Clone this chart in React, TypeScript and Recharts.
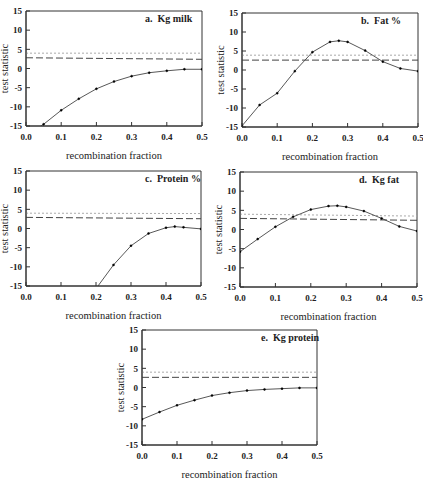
import React from "react";
import { LineChart, Line, XAxis, YAxis, ReferenceArea } from "recharts";

// recombination fractions (x) for each trait
const rfAll = [0, 0.05, 0.1, 0.15, 0.2, 0.25, 0.3, 0.35, 0.4, 0.45, 0.5];
const rfPeak = [0, 0.05, 0.1, 0.15, 0.2, 0.25, 0.275, 0.3, 0.35, 0.4, 0.45, 0.5];
const rfProtPct = [0.2, 0.25, 0.3, 0.35, 0.4, 0.425, 0.45, 0.5];

// test statistic values
const kgMilk = [-17.5, -14.55, -10.9, -7.9, -5.3, -3.4, -2.0, -1.1, -0.6, -0.2, -0.2];
const fatPct = [-14.7, -9.2, -6.1, -0.3, 4.7, 7.4, 7.7, 7.4, 5.1, 2.2, 0.4, -0.3];
const proteinPct = [-15.7, -9.5, -4.5, -1.3, 0.2, 0.5, 0.3, -0.1];
const kgFat = [-5.8, -2.5, 0.7, 3.3, 5.2, 6.1, 6.2, 5.9, 4.8, 2.9, 0.8, -0.4];
const kgProtein = [-8.3, -6.4, -4.65, -3.3, -2.1, -1.35, -0.8, -0.5, -0.3, -0.1, -0.1];

// threshold lines (value at r = 0 and r = 0.5)
const thrEnds = [0, 0.5];
const dashA = [2.8, 2.4];
const dashB = [2.6, 2.6];
const dashC = [2.9, 2.55];
const dashD = [2.9, 2.4];
const dashE = [2.65, 2.65];
const dotA = [4.0, 4.0];
const dotB = [3.9, 3.9];
const dotC = [4.0, 3.9];
const dotD = [4.0, 3.5];
const dotE = [4.0, 4.0];

const xTicks = [0, 0.1, 0.2, 0.3, 0.4, 0.5];
const yTicks = [-15, -10, -5, 0, 5, 10, 15];

const zip = (xs: number[], ys: number[]) => xs.map((r, i) => ({ r, v: ys[i] }));

const FONT = "'Liberation Serif', 'Times New Roman', serif";
const INK = "#333";
const YW = 26;

const XTick = (p: any) => (
  <g>
    <line x1={p.x} x2={p.x} y1={p.y - 8} y2={p.y - 12} stroke={INK} />
    <text x={p.x} y={p.y} dy="0.71em" textAnchor="middle" fontSize={9} fontWeight="bold" fontFamily={FONT} fill="#222">
      {Number(p.payload.value).toFixed(1)}
    </text>
  </g>
);

const YTick = (p: any) => (
  <g>
    <line x1={p.x + 4} x2={p.x + 8} y1={p.y} y2={p.y} stroke={INK} />
    <text x={p.x} y={p.y} dy="0.355em" textAnchor="end" fontSize={9} fontWeight="bold" fontFamily={FONT} fill="#222">
      {p.payload.value}
    </text>
  </g>
);

type PanelProps = {
  left: number;
  top: number;
  w: number;
  h: number;
  title: string;
  rs: number[];
  vals: number[];
  dash: number[];
  dot: number[];
};

function Panel({ left, top, w, h, title, rs, vals, dash, dot }: PanelProps) {
  const chartW = w + YW + 8;
  const chartH = h + 46;
  return (
    <div style={{ position: "absolute", left: left - YW, top: top - 8, width: chartW, height: chartH }}>
      <LineChart width={chartW} height={chartH} margin={{ top: 8, right: 8, bottom: 0, left: 0 }} style={{ overflow: "visible" }}>
        <XAxis
          dataKey="r"
          type="number"
          domain={[0, 0.5]}
          ticks={xTicks}
          interval={0}
          allowDataOverflow
          height={38}
          tickSize={0}
          tickMargin={8}
          tick={XTick}
          axisLine={{ stroke: INK }}
          label={{ value: "recombination fraction", position: "insideBottom", offset: 5, fontSize: 10.5, fontFamily: FONT, fill: "#222" }}
        />
        <YAxis
          type="number"
          domain={[-15, 15]}
          ticks={yTicks}
          interval={0}
          allowDataOverflow
          width={YW}
          tickSize={0}
          tickMargin={4}
          tick={YTick}
          axisLine={{ stroke: INK }}
          label={{ value: "test statistic", angle: -90, position: "insideLeft", offset: 4, fontSize: 10.5, fontFamily: FONT, fill: "#222", style: { textAnchor: "middle" } }}
        />
        <ReferenceArea x1={0} x2={0.5} y1={-15} y2={15} fill="none" fillOpacity={0} stroke={INK} strokeWidth={1} />
        <Line data={zip(thrEnds, dot)} dataKey="v" stroke="#aaa" strokeDasharray="2 2" strokeWidth={1} dot={false} isAnimationActive={false} />
        <Line data={zip(thrEnds, dash)} dataKey="v" stroke="#444" strokeDasharray="7 3" strokeWidth={1} dot={false} isAnimationActive={false} />
        <Line
          data={zip(rs, vals)}
          dataKey="v"
          type="linear"
          stroke="#444"
          strokeWidth={0.9}
          dot={{ r: 1, fill: "#000", stroke: "#000", strokeWidth: 0.5 }}
          isAnimationActive={false}
        />
      </LineChart>
      <div
        style={{
          position: "absolute",
          left: YW + 119,
          top: 8 + 2,
          fontFamily: FONT,
          fontWeight: "bold",
          fontSize: 10,
          color: "#222",
          whiteSpace: "pre",
          lineHeight: "12px",
        }}
      >
        {title}
      </div>
    </div>
  );
}

export default function App() {
  return (
    <div style={{ position: "absolute", left: 0, top: 0, width: 423, height: 479, background: "#fff" }}>
      <Panel left={26} top={11} w={176} h={115} title="a.  Kg milk" rs={rfAll} vals={kgMilk} dash={dashA} dot={dotA} />
      <Panel left={242} top={13} w={176} h={114} title="b.  Fat %" rs={rfPeak} vals={fatPct} dash={dashB} dot={dotB} />
      <Panel left={26} top={171} w={175} h={115} title="c.  Protein %" rs={rfProtPct} vals={proteinPct} dash={dashC} dot={dotC} />
      <Panel left={240} top={172} w={177} h={115} title="d.  Kg fat" rs={rfPeak} vals={kgFat} dash={dashD} dot={dotD} />
      <Panel left={142} top={330} w={175} h={115} title="e.  Kg protein" rs={rfAll} vals={kgProtein} dash={dashE} dot={dotE} />
    </div>
  );
}
